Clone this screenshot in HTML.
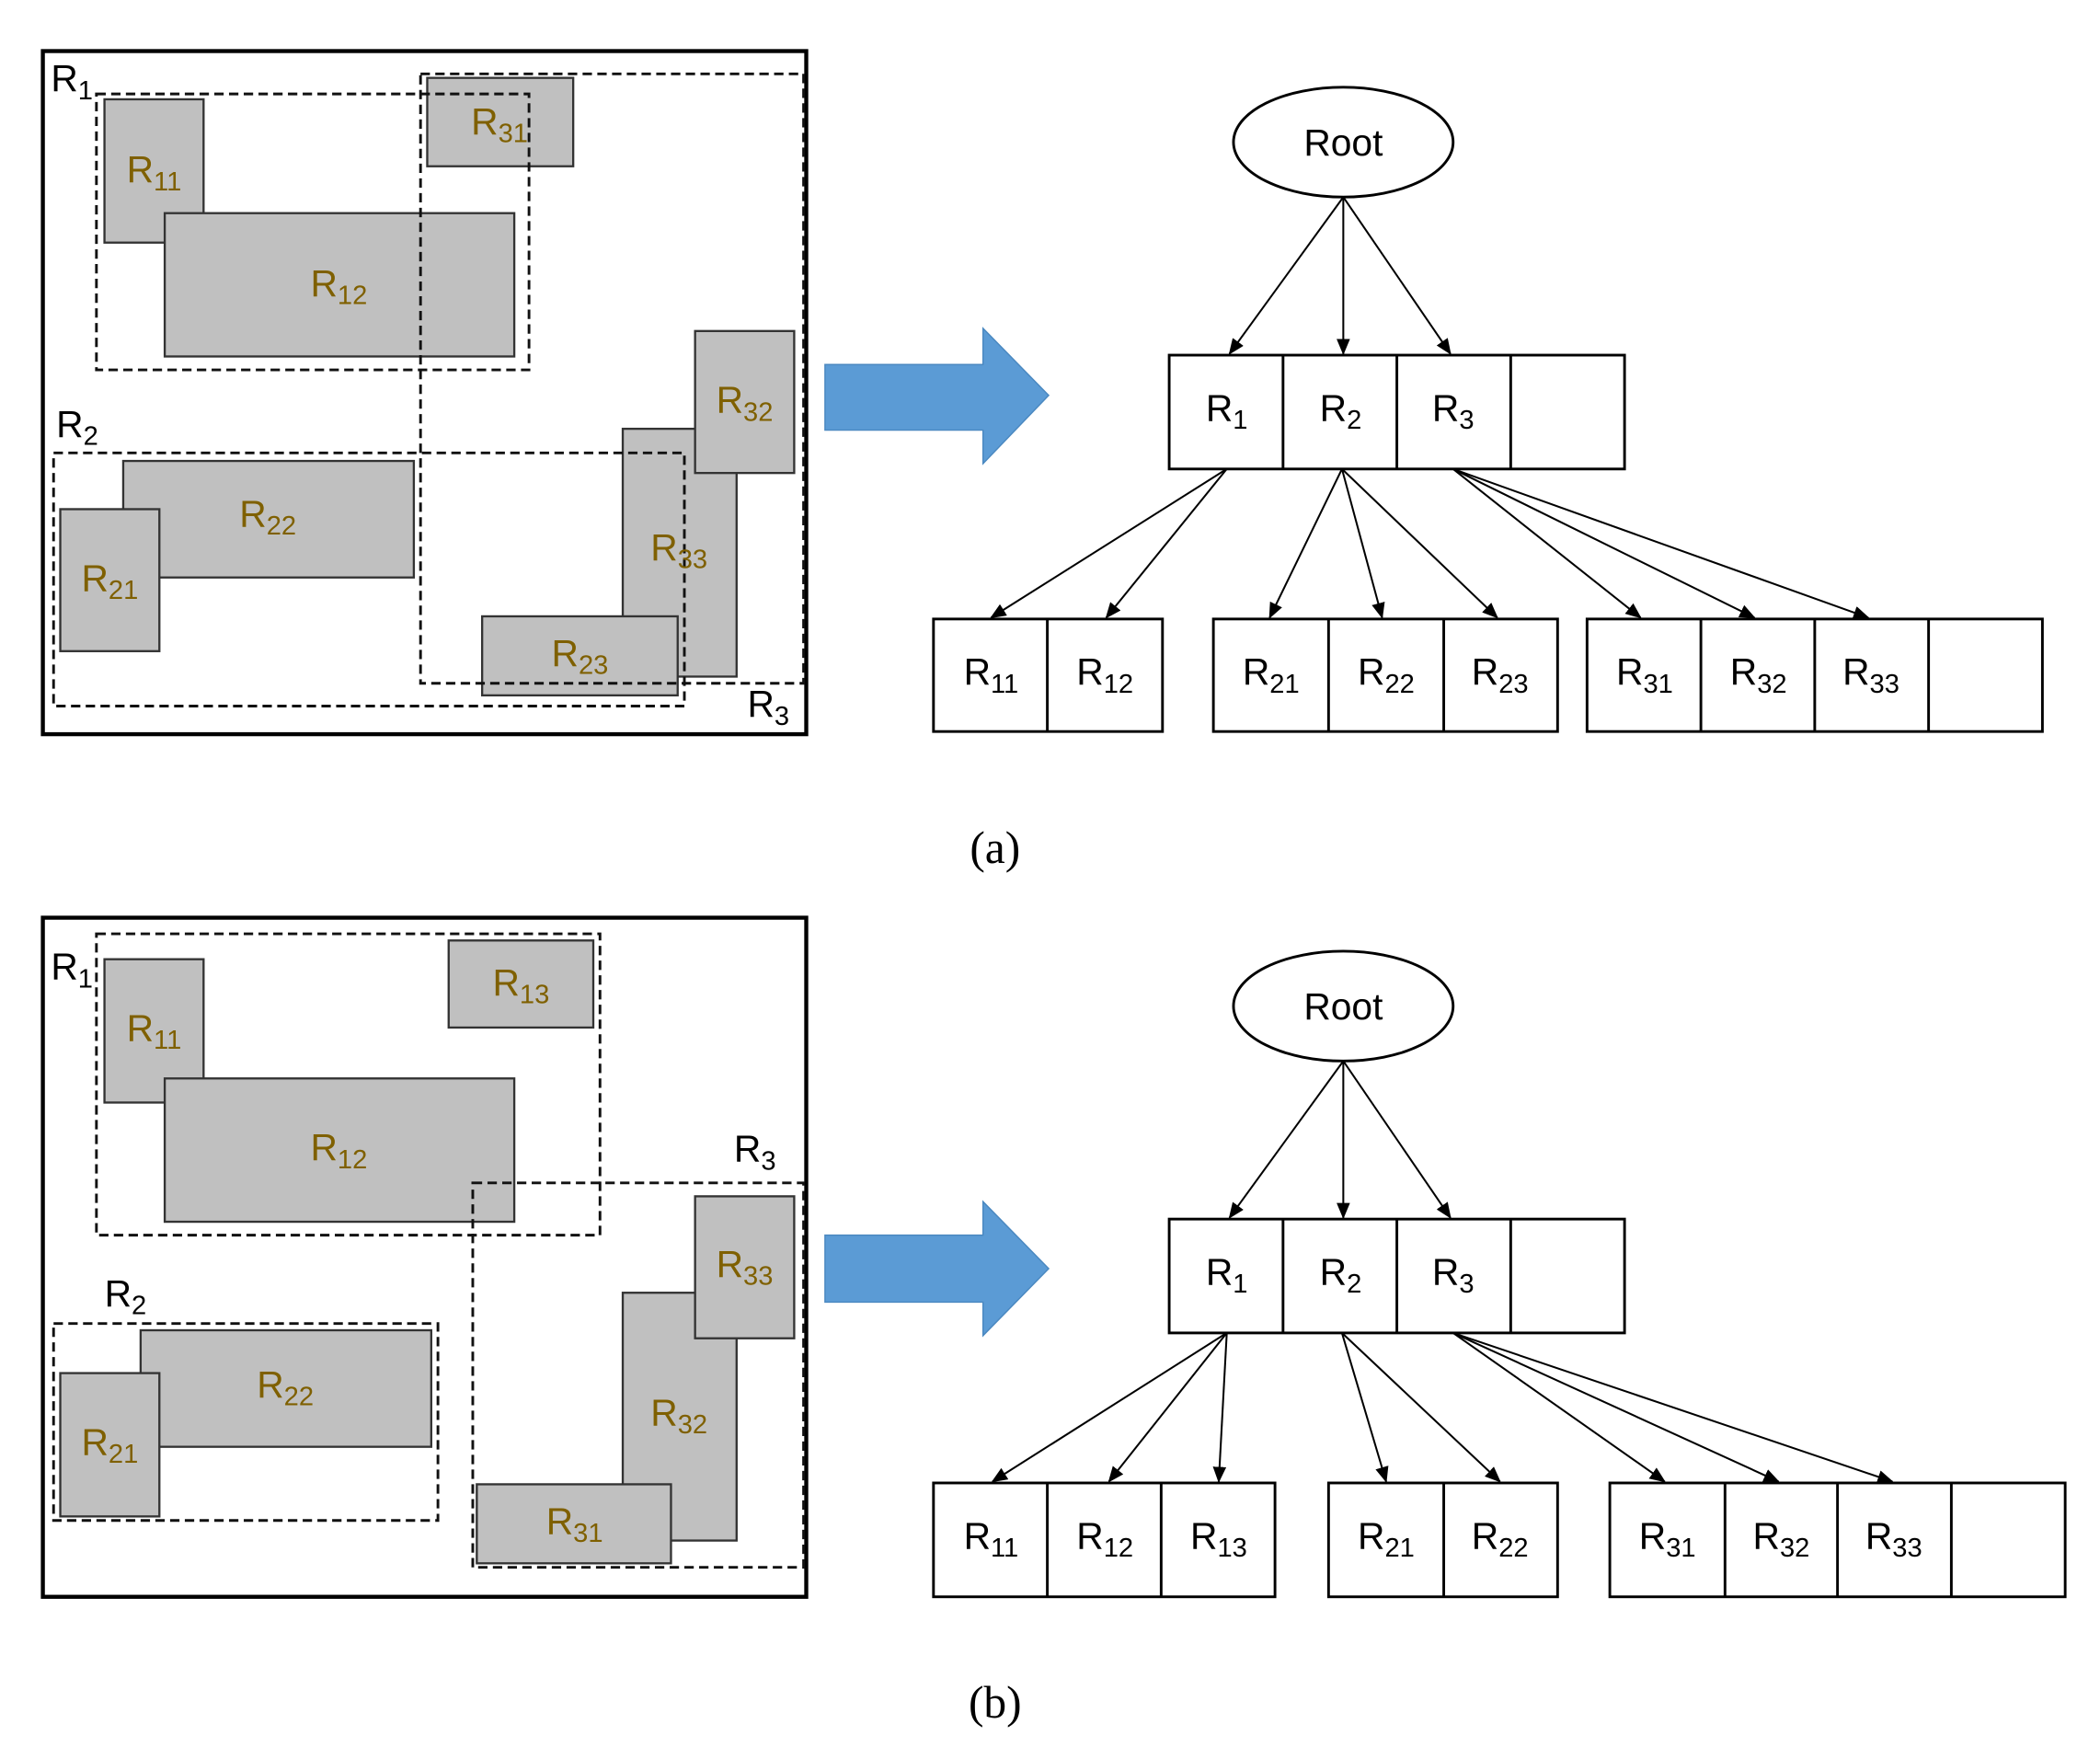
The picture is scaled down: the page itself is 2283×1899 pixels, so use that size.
<!DOCTYPE html>
<html><head><meta charset="utf-8"><style>
html,body{margin:0;padding:0;background:#fff;}
svg{display:block;}
text{font-family:"Liberation Sans",sans-serif;}
.g{fill:#c0c0c0;stroke:#333;stroke-width:1.6;}
.d{fill:none;stroke:#111;stroke-width:2;stroke-dasharray:7,4;}
.b{fill:#fff;stroke:#000;stroke-width:2;}
.o{fill:none;stroke:#000;stroke-width:3;}
.gl{fill:#7f6000;font-size:28px;}
.bl{fill:#000;font-size:28px;}
.a{stroke:#000;stroke-width:1.4;marker-end:url(#ah);}
</style></head><body>
<svg width="2283" height="1899" viewBox="0 0 1568 1304" xmlns="http://www.w3.org/2000/svg">
<defs><marker id="ah" markerWidth="12" markerHeight="10" refX="11" refY="5" orient="auto" markerUnits="userSpaceOnUse"><path d="M0,0 L12,5 L0,10 z" fill="#000"/></marker></defs>

<!-- panel a -->
<rect class="o" x="32" y="38" width="570" height="510"/>
<rect class="g" x="78" y="74" width="74" height="107"/>
<rect class="g" x="123" y="159" width="261" height="107"/>
<rect class="g" x="319" y="58" width="109" height="66"/>
<rect class="g" x="465" y="320" width="85" height="185"/>
<rect class="g" x="519" y="247" width="74" height="106"/>
<rect class="g" x="92" y="344" width="217" height="87"/>
<rect class="g" x="45" y="380" width="74" height="106"/>
<rect class="g" x="360" y="460" width="146" height="59"/>
<rect class="d" x="72" y="70" width="323" height="206"/>
<rect class="d" x="314" y="55" width="286" height="455"/>
<rect class="d" x="40" y="338" width="471" height="189"/>
<text class="bl" x="38" y="68">R<tspan font-size="20" dy="6">1</tspan></text>
<text class="bl" x="42" y="326">R<tspan font-size="20" dy="6">2</tspan></text>
<text class="bl" x="558" y="535">R<tspan font-size="20" dy="6">3</tspan></text>
<text class="gl" x="115" y="136" text-anchor="middle">R<tspan font-size="20" dy="6">11</tspan></text>
<text class="gl" x="253" y="221" text-anchor="middle">R<tspan font-size="20" dy="6">12</tspan></text>
<text class="gl" x="373" y="100" text-anchor="middle">R<tspan font-size="20" dy="6">31</tspan></text>
<text class="gl" x="556" y="308" text-anchor="middle">R<tspan font-size="20" dy="6">32</tspan></text>
<text class="gl" x="507" y="418" text-anchor="middle">R<tspan font-size="20" dy="6">33</tspan></text>
<text class="gl" x="200" y="393" text-anchor="middle">R<tspan font-size="20" dy="6">22</tspan></text>
<text class="gl" x="82" y="441" text-anchor="middle">R<tspan font-size="20" dy="6">21</tspan></text>
<text class="gl" x="433" y="497" text-anchor="middle">R<tspan font-size="20" dy="6">23</tspan></text>

<path d="M616,272 L734,272 L734,245 L783,295 L734,346 L734,321 L616,321 z" fill="#5b9bd5" stroke="#4a88c0" stroke-width="1"/>

<ellipse cx="1003" cy="106" rx="82" ry="41" fill="#fff" stroke="#000" stroke-width="2"/>
<text class="bl" x="1003" y="116" text-anchor="middle">Root</text>
<line class="a" x1="1003" y1="147" x2="918" y2="264"/>
<line class="a" x1="1003" y1="147" x2="1003" y2="264"/>
<line class="a" x1="1003" y1="147" x2="1083" y2="264"/>
<rect class="b" x="873" y="265" width="340" height="85"/>
<line x1="958" y1="265" x2="958" y2="350" stroke="#000" stroke-width="2"/>
<line x1="1043" y1="265" x2="1043" y2="350" stroke="#000" stroke-width="2"/>
<line x1="1128" y1="265" x2="1128" y2="350" stroke="#000" stroke-width="2"/>
<text class="bl" x="916" y="314" text-anchor="middle">R<tspan font-size="20" dy="6">1</tspan></text>
<text class="bl" x="1001" y="314" text-anchor="middle">R<tspan font-size="20" dy="6">2</tspan></text>
<text class="bl" x="1085" y="314" text-anchor="middle">R<tspan font-size="20" dy="6">3</tspan></text>
<line class="a" x1="916" y1="350" x2="740" y2="461"/>
<line class="a" x1="916" y1="350" x2="826" y2="461"/>
<line class="a" x1="1002" y1="350" x2="948" y2="461"/>
<line class="a" x1="1002" y1="350" x2="1032" y2="461"/>
<line class="a" x1="1002" y1="350" x2="1118" y2="461"/>
<line class="a" x1="1085" y1="350" x2="1225" y2="461"/>
<line class="a" x1="1085" y1="350" x2="1310" y2="461"/>
<line class="a" x1="1085" y1="350" x2="1395" y2="461"/>
<rect class="b" x="697" y="462" width="171" height="84"/>
<line x1="782" y1="462" x2="782" y2="546" stroke="#000" stroke-width="2"/>
<rect class="b" x="906" y="462" width="257" height="84"/>
<line x1="992" y1="462" x2="992" y2="546" stroke="#000" stroke-width="2"/>
<line x1="1078" y1="462" x2="1078" y2="546" stroke="#000" stroke-width="2"/>
<rect class="b" x="1185" y="462" width="340" height="84"/>
<line x1="1270" y1="462" x2="1270" y2="546" stroke="#000" stroke-width="2"/>
<line x1="1355" y1="462" x2="1355" y2="546" stroke="#000" stroke-width="2"/>
<line x1="1440" y1="462" x2="1440" y2="546" stroke="#000" stroke-width="2"/>
<text class="bl" x="740" y="511" text-anchor="middle">R<tspan font-size="20" dy="6">11</tspan></text>
<text class="bl" x="825" y="511" text-anchor="middle">R<tspan font-size="20" dy="6">12</tspan></text>
<text class="bl" x="949" y="511" text-anchor="middle">R<tspan font-size="20" dy="6">21</tspan></text>
<text class="bl" x="1035" y="511" text-anchor="middle">R<tspan font-size="20" dy="6">22</tspan></text>
<text class="bl" x="1120" y="511" text-anchor="middle">R<tspan font-size="20" dy="6">23</tspan></text>
<text class="bl" x="1228" y="511" text-anchor="middle">R<tspan font-size="20" dy="6">31</tspan></text>
<text class="bl" x="1313" y="511" text-anchor="middle">R<tspan font-size="20" dy="6">32</tspan></text>
<text class="bl" x="1397" y="511" text-anchor="middle">R<tspan font-size="20" dy="6">33</tspan></text>
<text x="743" y="644" text-anchor="middle" font-size="34" style="font-family:'Liberation Serif',serif">(a)</text>

<!-- panel b -->
<rect class="o" x="32" y="685" width="570" height="507"/>
<rect class="g" x="78" y="716" width="74" height="107"/>
<rect class="g" x="123" y="805" width="261" height="107"/>
<rect class="g" x="335" y="702" width="108" height="65"/>
<rect class="g" x="465" y="965" width="85" height="185"/>
<rect class="g" x="519" y="893" width="74" height="106"/>
<rect class="g" x="356" y="1108" width="145" height="59"/>
<rect class="g" x="105" y="993" width="217" height="87"/>
<rect class="g" x="45" y="1025" width="74" height="107"/>
<rect class="d" x="72" y="697" width="376" height="225"/>
<rect class="d" x="353" y="883" width="247" height="287"/>
<rect class="d" x="40" y="988" width="287" height="147"/>
<text class="bl" x="38" y="731">R<tspan font-size="20" dy="6">1</tspan></text>
<text class="bl" x="78" y="975">R<tspan font-size="20" dy="6">2</tspan></text>
<text class="bl" x="548" y="867">R<tspan font-size="20" dy="6">3</tspan></text>
<text class="gl" x="115" y="777" text-anchor="middle">R<tspan font-size="20" dy="6">11</tspan></text>
<text class="gl" x="253" y="866" text-anchor="middle">R<tspan font-size="20" dy="6">12</tspan></text>
<text class="gl" x="389" y="743" text-anchor="middle">R<tspan font-size="20" dy="6">13</tspan></text>
<text class="gl" x="556" y="953" text-anchor="middle">R<tspan font-size="20" dy="6">33</tspan></text>
<text class="gl" x="507" y="1064" text-anchor="middle">R<tspan font-size="20" dy="6">32</tspan></text>
<text class="gl" x="429" y="1145" text-anchor="middle">R<tspan font-size="20" dy="6">31</tspan></text>
<text class="gl" x="213" y="1043" text-anchor="middle">R<tspan font-size="20" dy="6">22</tspan></text>
<text class="gl" x="82" y="1086" text-anchor="middle">R<tspan font-size="20" dy="6">21</tspan></text>

<path d="M616,922 L734,922 L734,897 L783,947 L734,997 L734,972 L616,972 z" fill="#5b9bd5" stroke="#4a88c0" stroke-width="1"/>

<ellipse cx="1003" cy="751" rx="82" ry="41" fill="#fff" stroke="#000" stroke-width="2"/>
<text class="bl" x="1003" y="761" text-anchor="middle">Root</text>
<line class="a" x1="1003" y1="792" x2="918" y2="909"/>
<line class="a" x1="1003" y1="792" x2="1003" y2="909"/>
<line class="a" x1="1003" y1="792" x2="1083" y2="909"/>
<rect class="b" x="873" y="910" width="340" height="85"/>
<line x1="958" y1="910" x2="958" y2="995" stroke="#000" stroke-width="2"/>
<line x1="1043" y1="910" x2="1043" y2="995" stroke="#000" stroke-width="2"/>
<line x1="1128" y1="910" x2="1128" y2="995" stroke="#000" stroke-width="2"/>
<text class="bl" x="916" y="959" text-anchor="middle">R<tspan font-size="20" dy="6">1</tspan></text>
<text class="bl" x="1001" y="959" text-anchor="middle">R<tspan font-size="20" dy="6">2</tspan></text>
<text class="bl" x="1085" y="959" text-anchor="middle">R<tspan font-size="20" dy="6">3</tspan></text>
<line class="a" x1="916" y1="995" x2="741" y2="1106"/>
<line class="a" x1="916" y1="995" x2="828" y2="1106"/>
<line class="a" x1="916" y1="995" x2="910" y2="1106"/>
<line class="a" x1="1002" y1="995" x2="1035" y2="1106"/>
<line class="a" x1="1002" y1="995" x2="1120" y2="1106"/>
<line class="a" x1="1085" y1="995" x2="1243" y2="1106"/>
<line class="a" x1="1085" y1="995" x2="1328" y2="1106"/>
<line class="a" x1="1085" y1="995" x2="1413" y2="1106"/>
<rect class="b" x="697" y="1107" width="255" height="85"/>
<line x1="782" y1="1107" x2="782" y2="1192" stroke="#000" stroke-width="2"/>
<line x1="867" y1="1107" x2="867" y2="1192" stroke="#000" stroke-width="2"/>
<rect class="b" x="992" y="1107" width="171" height="85"/>
<line x1="1078" y1="1107" x2="1078" y2="1192" stroke="#000" stroke-width="2"/>
<rect class="b" x="1202" y="1107" width="340" height="85"/>
<line x1="1288" y1="1107" x2="1288" y2="1192" stroke="#000" stroke-width="2"/>
<line x1="1372" y1="1107" x2="1372" y2="1192" stroke="#000" stroke-width="2"/>
<line x1="1457" y1="1107" x2="1457" y2="1192" stroke="#000" stroke-width="2"/>
<text class="bl" x="740" y="1156" text-anchor="middle">R<tspan font-size="20" dy="6">11</tspan></text>
<text class="bl" x="825" y="1156" text-anchor="middle">R<tspan font-size="20" dy="6">12</tspan></text>
<text class="bl" x="910" y="1156" text-anchor="middle">R<tspan font-size="20" dy="6">13</tspan></text>
<text class="bl" x="1035" y="1156" text-anchor="middle">R<tspan font-size="20" dy="6">21</tspan></text>
<text class="bl" x="1120" y="1156" text-anchor="middle">R<tspan font-size="20" dy="6">22</tspan></text>
<text class="bl" x="1245" y="1156" text-anchor="middle">R<tspan font-size="20" dy="6">31</tspan></text>
<text class="bl" x="1330" y="1156" text-anchor="middle">R<tspan font-size="20" dy="6">32</tspan></text>
<text class="bl" x="1414" y="1156" text-anchor="middle">R<tspan font-size="20" dy="6">33</tspan></text>
<text x="743" y="1282" text-anchor="middle" font-size="34" style="font-family:'Liberation Serif',serif">(b)</text>
</svg>
</body></html>
